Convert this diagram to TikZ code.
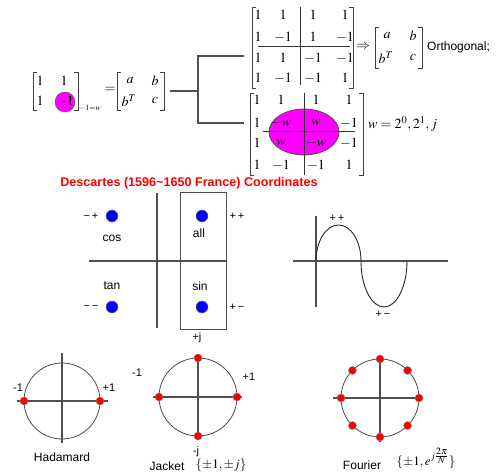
\documentclass[tikz,border=0pt]{standalone}
\usepackage{amsmath}
\usepackage{mathptmx}
\usepackage{fontspec}
\setmainfont{Liberation Serif}
\newfontfamily\lsans{Liberation Sans}
\usetikzlibrary{positioning,calc}
\definecolor{dotblue}{RGB}{0,0,255}
\definecolor{dotred}{RGB}{250,0,0}
\definecolor{lens}{RGB}{255,0,255}
\definecolor{axgray}{RGB}{80,80,80}
% square brackets of a matrix: left x, right x, top y, bottom y
\newcommand\sqbrack[4]{%
  \draw[brk] (#1+4,#3) -- (#1,#3) -- (#1,#4) -- (#1+4,#4);
  \draw[brk] (#2-4,#3) -- (#2,#3) -- (#2,#4) -- (#2-4,#4);}

\begin{document}
\begin{tikzpicture}[x=1pt,y=-1pt,
  ent/.style={inner sep=0pt,font=\fontsize{14}{16}\selectfont},
  lbl/.style={inner sep=0pt,font=\lsans\fontsize{12}{14}\selectfont},
  sml/.style={inner sep=0pt,font=\lsans\fontsize{11}{13}\selectfont},
  brk/.style={draw=black!75,line width=0.8pt},
  part/.style={draw=black!80,line width=1pt},
  tree/.style={draw=axgray,line width=1.2pt},
  ax/.style={draw=axgray,line width=1.2pt},
  ring/.style={draw=black!70,line width=0.8pt},
  bdot/.style={circle,fill=dotblue,draw=black!60,minimum size=12pt,inner sep=0pt},
  rdot/.style={circle,fill=dotred,draw=black!50,minimum size=8pt,inner sep=0pt}]
\useasboundingbox (0,0) rectangle (498,473);

% 2x2 kernel
\sqbrack{33}{78}{72}{110}
\node[circle,fill=lens,draw=black!70,minimum size=20pt,inner sep=0pt] (hole) at (65,102) {};
\node[ent] (k11) at (40,81) {$1$};
\node[ent] (k12) at (64,81) {$1$};
\node[ent] (k21) at (40,101) {$1$};
\node[ent] (k22) at (65,101) {$-1$};
\node[inner sep=0pt,font=\fontsize{8}{9}\selectfont] (kw) at (90,108) {$-1{=}w$};
\node[ent] (eq) at (110,90) {$=$};
\sqbrack{117}{164}{72}{110}
\node[ent] (la) at (130,81) {$a$};
\node[ent] (lb) at (155,81) {$b$};
\node[ent] (lbt) at (129,101) {$b^T$};
\node[ent] (lc) at (155,101) {$c$};

% fork to the two 4x4 matrices
\coordinate (abR) at (170,91);
\coordinate (fork) at (198,91);
\coordinate (forkT) at (198,56);
\coordinate (forkB) at (198,123);
\coordinate (topIn) at (244,56);
\coordinate (botIn) at (244,123);
\draw[tree] (abR) -- (fork);
\draw[tree] (topIn) -- (forkT) -- (forkB) -- (botIn);

% upper 4x4
\draw[part] (300,7) -- (300,85);
\draw[part] (258,47) -- (350,47);
\sqbrack{252}{353}{7}{88}
\foreach \y/\a/\b/\c/\d [count=\r] in {15/1/1/1/1,37/1/-1/1/-1,58/1/1/-1/-1,78/1/-1/-1/1}{
  \node[ent] (u-\r-1) at (258,\y) {$\a$};
  \node[ent] (u-\r-2) at (283,\y) {$\b$};
  \node[ent] (u-\r-3) at (313,\y) {$\c$};
  \node[ent] (u-\r-4) at (345,\y) {$\d$};
}
\node[ent] (impl) at (363,47) {$\Rightarrow$};
\sqbrack{375}{422}{27}{68}
\node[ent] (ra) at (387,36) {$a$};
\node[ent] (rb) at (413,36) {$b$};
\node[ent] (rbt) at (386,58) {$b^T$};
\node[ent] (rc) at (413,58) {$c$};
\node[lbl,anchor=west] (orth) at (427,47) {Orthogonal;};

% lower 4x4 with w block
\draw[fill=lens,draw=black!70,line width=0.8pt] (304,132) ellipse [x radius=35pt,y radius=23pt];
\draw[part] (304,93) -- (304,175);
\draw[part] (263,132) -- (355,132);
\sqbrack{250}{363}{93}{175}
\foreach \y/\a/\b/\c/\d [count=\r] in {100/1/1/1/1,123/1/-w/w/-1,143/1/w/-w/-1,165/1/-1/-1/1}{
  \node[ent] (w-\r-1) at (257,\y) {$\a$};
  \node[ent] (w-\r-2) at (281,\y) {$\b$};
  \node[ent] (w-\r-3) at (316,\y) {$\c$};
  \node[ent] (w-\r-4) at (349,\y) {$\d$};
}
\node[ent,anchor=west] (wval) at (368,124) {$w=2^0,2^1,j$};

% title
\node[inner sep=0pt,text=red,font=\lsans\bfseries\fontsize{12.6}{14}\selectfont] (title) at (189,183)
  {Descartes (1596\textasciitilde1650 France) Coordinates};

% quadrants
\draw[ax] (157,193) -- (157,328);
\draw[ax] (89,261) -- (226,261);
\draw[ring,line width=1pt] (180,193) rectangle (226,329);
\node[bdot] (q2) at (112,216) {};
\node[bdot] (q1) at (202,216) {};
\node[bdot] (q3) at (112,307) {};
\node[bdot] (q4) at (202,307) {};
\node[sml] (s2) at (91,216) {−\,+};
\node[sml] (s1) at (237,216) {+\,+};
\node[sml] (s3) at (91,307) {−\,−};
\node[sml] (s4) at (237,307) {+\,−};
\node[lbl] (cos) at (112,238) {cos};
\node[lbl] (all) at (199,233) {all};
\node[lbl] (tan) at (112,286) {tan};
\node[lbl] (sin) at (200,286) {sin};

% sine
\draw[ax] (316,216) -- (316,307);
\draw[ax] (293,261) -- (448,261);
\draw[black!85,line width=0.9pt] (316,261)
  arc[start angle=180,end angle=0,x radius=22.5pt,y radius=36pt]
  arc[start angle=180,end angle=360,x radius=23pt,y radius=46pt];
\node[sml] (pp) at (337,218) {+\,+};
\node[sml] (pm) at (383,314) {+\,−};

% Hadamard
\draw[ring] (62,401) circle [radius=38pt];
\draw[ax] (17,401) -- (108,401);
\draw[ax] (62,353) -- (62,443);
\node[rdot] (h1) at (24,401) {};
\node[rdot] (h2) at (100,401) {};
\node[sml] (hm) at (18,388) {-1};
\node[sml] (hp) at (109,388) {+1};
\node[lbl] (had) at (62,457) {Hadamard};

% Jacket
\draw[ring] (198,397) circle [radius=39pt];
\draw[ax] (153,397) -- (242,397);
\draw[ax] (198,354) -- (198,440);
\foreach \a [count=\i] in {0,90,180,270}
  \node[rdot] (j\i) at ($(198,397)+(\a:39pt)$) {};
\node[sml] (jpj) at (197,338) {+j};
\node[sml] (jm) at (137,373) {-1};
\node[sml] (jp) at (249,377) {+1};
\node[sml] (jmj) at (196,452) {-j};
\node[lbl] (jac) at (167,466) {Jacket};
\node[inner sep=0pt,font=\fontsize{13}{15}\selectfont] (jset) at (221,465) {$\{\pm1,\pm j\}$};

% Fourier
\draw[ring] (380,398) circle [radius=39pt];
\draw[ax] (333,398) -- (423,398);
\draw[ax] (380,357) -- (380,442);
\foreach \a [count=\i] in {0,45,...,315}
  \node[rdot] (f\i) at ($(380,398)+(\a:39pt)$) {};
\node[lbl] (fou) at (362,465) {Fourier};
\node[inner sep=0pt,font=\fontsize{13}{15}\selectfont] (fset) at (426,458) {$\{\pm1,e^{j\genfrac{}{}{}{1}{2\pi}{N}}\}$};
\end{tikzpicture}
\end{document}
